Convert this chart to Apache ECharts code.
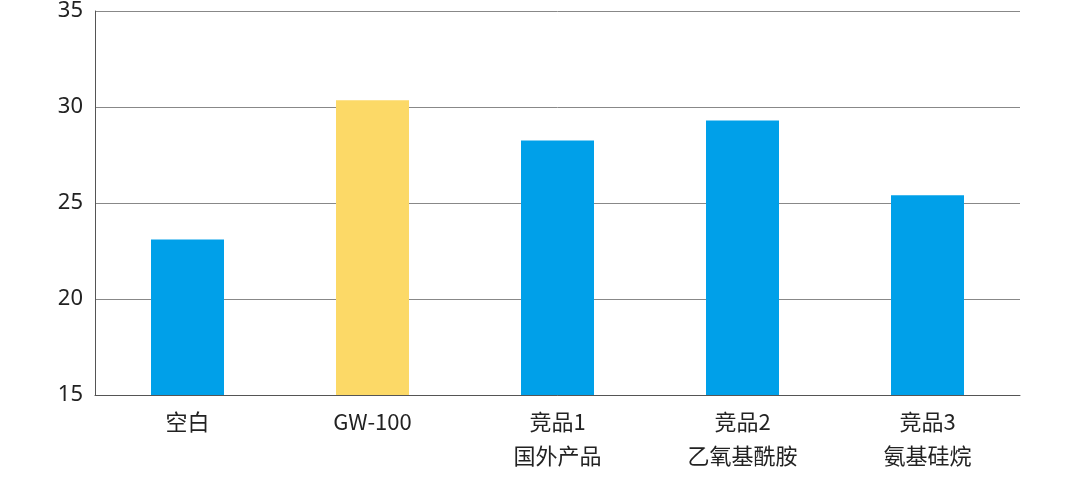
<!DOCTYPE html>
<html>
<head>
<meta charset="utf-8">
<script src="https://cdn.jsdelivr.net/npm/echarts@6/dist/echarts.min.js"></script>
<style>html,body{margin:0;background:#fff}#plot{width:1080px;height:489px}</style>
</head>
<body>
<div id="plot"></div>
<script>
// Categories and values
const categories = ["空白", "GW-100", "竞品1\n国外产品", "竞品2\n乙氧基酰胺", "竞品3\n氨基硅烷"];
const values = [23.1, 30.35, 28.25, 29.3, 25.4];
const barColors = ["#00a0e9", "#fcd967", "#00a0e9", "#00a0e9", "#00a0e9"];
const yTicks = { min: 15, max: 35, interval: 5 };

const chart = echarts.init(document.getElementById("plot"));
chart.setOption({
    animation: false,
    // top is negative so the (hidden) 35 line sits above the page and 30 lands at y=89
    grid: { left: 95, right: 60, top: -13, bottom: 94 },
    xAxis: {
        type: "category",
        data: categories,
        axisLine: { lineStyle: { color: "#555" } },
        axisTick: { show: false },
        axisLabel: { color: "#222", fontSize: 22, lineHeight: 34, margin: 10, fontFamily: "Noto Sans CJK SC" }
    },
    yAxis: {
        type: "value",
        min: yTicks.min, max: yTicks.max, interval: yTicks.interval,
        axisLine: { show: true, lineStyle: { color: "#555" } },
        axisTick: { show: false },
        splitLine: { lineStyle: { color: "#888" } },
        axisLabel: { color: "#222", fontSize: 22, margin: 12, fontFamily: "Noto Sans" }
    },
    series: [{
        type: "bar",
        barWidth: 73,
        data: values.map((v, i) => ({ value: v, itemStyle: { color: barColors[i] } }))
    }]
});
</script>
</body>
</html>
